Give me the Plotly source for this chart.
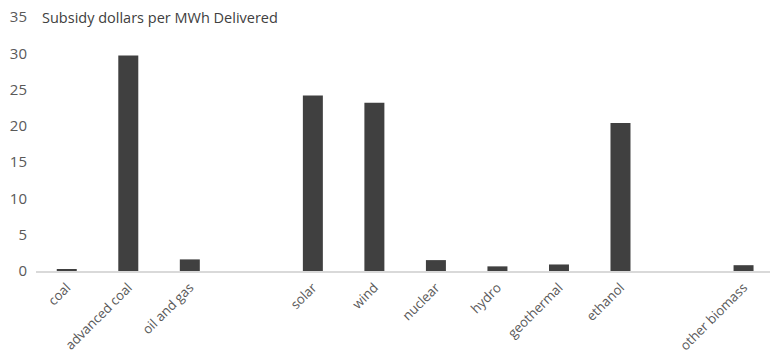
import plotly.graph_objects as go

# Subsidy per MWh delivered, by energy source (blank slots separate groups)
categories = ["coal", "advanced coal", "oil and gas", " ",
              "solar", "wind", "nuclear", "hydro", "geothermal", "ethanol",
              "  ", "other biomass"]
subsidy = [0.2, 29.7, 1.6, None,
           24.2, 23.2, 1.5, 0.64, 0.9, 20.4,
           None, 0.8]
y_ticks = [0, 5, 10, 15, 20, 25, 30, 35]

font_family = "Open Sans, Liberation Sans, sans-serif"
text_grey = "#595959"

fig = go.Figure(
    go.Bar(
        x=categories,
        y=subsidy,
        marker=dict(color="#404040", line=dict(width=0)),
        width=0.325,
        hoverinfo="x+y",
    )
)

fig.update_layout(
    width=770,
    height=357,
    margin=dict(l=36, r=0, t=16.5, b=86),
    paper_bgcolor="white",
    plot_bgcolor="white",
    showlegend=False,
    font=dict(family=font_family, size=13, color=text_grey),
    xaxis=dict(
        type="category",
        categoryorder="array",
        categoryarray=categories,
        range=[-0.5, 11.43],
        tickangle=-45,
        showline=True,
        linecolor="#d9d9d9",
        linewidth=1.5,
        showgrid=False,
        ticks="",
        tickfont=dict(size=13.2, color=text_grey),
        ticklabelstandoff=2,
        automargin=False,
        fixedrange=True,
    ),
    yaxis=dict(
        range=[0, 35],
        tickvals=y_ticks,
        showgrid=False,
        showline=False,
        zeroline=False,
        ticks="",
        tickfont=dict(size=15, color=text_grey),
        ticklabelstandoff=8,
        automargin=False,
        fixedrange=True,
    ),
    annotations=[
        dict(
            text="Subsidy dollars per MWh Delivered",
            xref="paper", yref="paper",
            x=0.005, y=1.0,
            xanchor="left", yanchor="middle",
            showarrow=False,
            font=dict(size=14.5, color="#404040", family=font_family),
        )
    ],
)

fig.write_html("out.html")
